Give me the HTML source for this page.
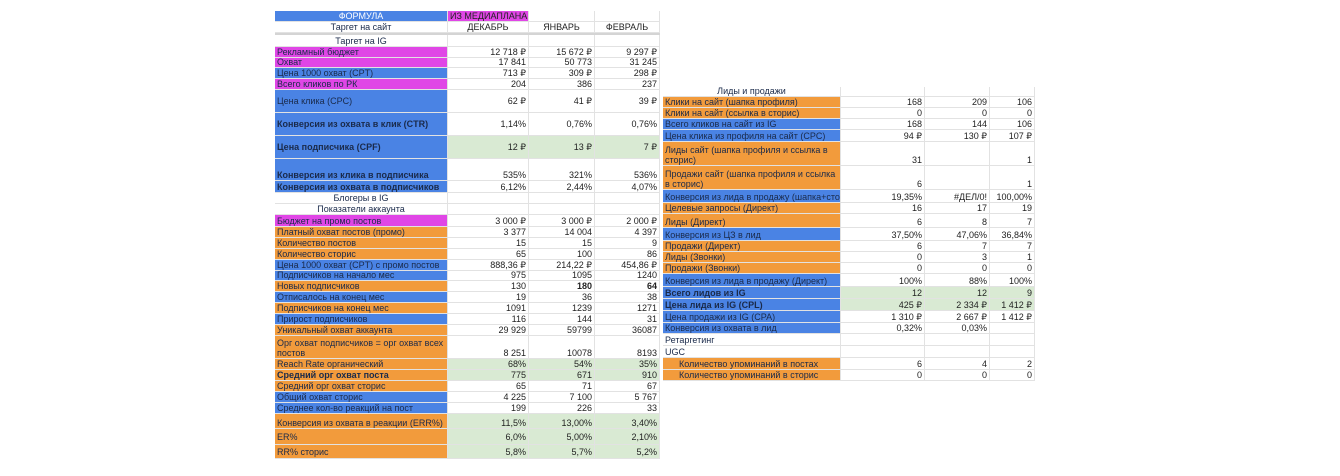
<!DOCTYPE html>
<html><head><meta charset="utf-8"><style>
body{margin:0;width:1340px;height:476px;background:#fff;position:relative;overflow:hidden;font-family:"Liberation Sans","DejaVu Sans",sans-serif;font-size:9px;color:#222}
.r{position:absolute;display:grid;box-sizing:border-box}
.L{left:275px;width:385px;grid-template-columns:173px 81px 66px 65px}
.R{left:663px;width:372px;grid-template-columns:178px 84px 65px 45px}
.r>div{border-bottom:1px solid #e2e2e2;border-right:1px solid #e2e2e2;display:flex;align-items:flex-end;justify-content:flex-end;padding:0 2px 0 2px;overflow:hidden;white-space:nowrap;line-height:10px}
.r>div:first-child{justify-content:flex-start;color:#1a2a4a}
.c{justify-content:center!important}
.b{background:#4a83e4}.o{background:#f29b3c}.m{background:#e046e6}.g{background:#d9ead3}
.w{white-space:normal!important;align-items:flex-end}
.bd{font-weight:bold}
</style></head><body>
<div class="r L" style="top:11px;height:11px"><div class="b c" style="color:#fff">ФОРМУЛА</div><div class="m" style="justify-content:flex-start;color:#222">ИЗ МЕДИАПЛАНА</div><div></div><div></div></div>
<div class="r L" style="top:22px;height:11px"><div class="c">Таргет на сайт</div><div class="c">ДЕКАБРЬ</div><div class="c">ЯНВАРЬ</div><div class="c">ФЕВРАЛЬ</div></div>
<div style="position:absolute;left:275px;top:33px;width:385px;height:2px;background:#d4d4d4"></div>
<div class="r L" style="top:35px;height:12px"><div class="c">Таргет на IG</div><div></div><div></div><div></div></div>
<div class="r L" style="top:47px;height:11px"><div class="m">Рекламный бюджет</div><div>12 718 ₽</div><div>15 672 ₽</div><div>9 297 ₽</div></div>
<div class="r L" style="top:58px;height:10px"><div class="m">Охват</div><div>17 841</div><div>50 773</div><div>31 245</div></div>
<div class="r L" style="top:68px;height:11px"><div class="b">Цена 1000 охват (CPT)</div><div>713 ₽</div><div>309 ₽</div><div>298 ₽</div></div>
<div class="r L" style="top:79px;height:11px"><div class="m">Всего кликов по РК</div><div>204</div><div>386</div><div>237</div></div>
<div class="r L" style="top:90px;height:23px"><div class="b" style="align-items:center">Цена клика (CPC)</div><div style="align-items:center">62 ₽</div><div style="align-items:center">41 ₽</div><div style="align-items:center">39 ₽</div></div>
<div class="r L" style="top:113px;height:23px"><div class="b bd" style="align-items:center">Конверсия из охвата в клик (CTR)</div><div style="align-items:center">1,14%</div><div style="align-items:center">0,76%</div><div style="align-items:center">0,76%</div></div>
<div class="r L" style="top:136px;height:23px"><div class="b bd" style="align-items:center">Цена подписчика (CPF)</div><div class="g" style="align-items:center">12 ₽</div><div class="g" style="align-items:center">13 ₽</div><div class="g" style="align-items:center">7 ₽</div></div>
<div class="r L" style="top:159px;height:22px"><div class="b bd">Конверсия из клика в подписчика</div><div>535%</div><div>321%</div><div>536%</div></div>
<div class="r L" style="top:181px;height:12px"><div class="b bd">Конверсия из охвата в подписчиков</div><div>6,12%</div><div>2,44%</div><div>4,07%</div></div>
<div class="r L" style="top:193px;height:11px"><div class="c">Блогеры в IG</div><div></div><div></div><div></div></div>
<div class="r L" style="top:204px;height:11px"><div class="c">Показатели аккаунта</div><div></div><div></div><div></div></div>
<div class="r L" style="top:215px;height:12px"><div class="m">Бюджет на промо постов</div><div>3 000 ₽</div><div>3 000 ₽</div><div>2 000 ₽</div></div>
<div class="r L" style="top:227px;height:11px"><div class="o">Платный охват постов (промо)</div><div>3 377</div><div>14 004</div><div>4 397</div></div>
<div class="r L" style="top:238px;height:11px"><div class="o">Количество постов</div><div>15</div><div>15</div><div>9</div></div>
<div class="r L" style="top:249px;height:11px"><div class="o">Количество сторис</div><div>65</div><div>100</div><div>86</div></div>
<div class="r L" style="top:260px;height:11px"><div class="b">Цена 1000 охват (CPT) с промо постов</div><div>888,36 ₽</div><div>214,22 ₽</div><div>454,86 ₽</div></div>
<div class="r L" style="top:271px;height:10px"><div class="b">Подписчиков на начало мес</div><div>975</div><div>1095</div><div>1240</div></div>
<div class="r L" style="top:281px;height:11px"><div class="o">Новых подписчиков</div><div>130</div><div class="bd">180</div><div class="bd">64</div></div>
<div class="r L" style="top:292px;height:11px"><div class="b">Отписалось на конец мес</div><div>19</div><div>36</div><div>38</div></div>
<div class="r L" style="top:303px;height:11px"><div class="o">Подписчиков на конец мес</div><div>1091</div><div>1239</div><div>1271</div></div>
<div class="r L" style="top:314px;height:11px"><div class="b">Прирост подписчиков</div><div>116</div><div>144</div><div>31</div></div>
<div class="r L" style="top:325px;height:11px"><div class="o">Уникальный охват аккаунта</div><div>29 929</div><div>59799</div><div>36087</div></div>
<div class="r L" style="top:336px;height:23px"><div class="o w">Орг охват подписчиков = орг охват всех постов</div><div>8 251</div><div>10078</div><div>8193</div></div>
<div class="r L" style="top:359px;height:11px"><div class="o">Reach Rate органический</div><div class="g">68%</div><div class="g">54%</div><div class="g">35%</div></div>
<div class="r L" style="top:370px;height:11px"><div class="o bd">Средний орг охват поста</div><div class="g">775</div><div class="g">671</div><div class="g">910</div></div>
<div class="r L" style="top:381px;height:11px"><div class="o">Средний орг охват сторис</div><div>65</div><div>71</div><div>67</div></div>
<div class="r L" style="top:392px;height:11px"><div class="b">Общий охват сторис</div><div>4 225</div><div>7 100</div><div>5 767</div></div>
<div class="r L" style="top:403px;height:11px"><div class="b">Среднее кол-во реакций на пост</div><div>199</div><div>226</div><div>33</div></div>
<div class="r L" style="top:414px;height:15px"><div class="o">Конверсия из охвата в реакции (ERR%)</div><div class="g">11,5%</div><div class="g">13,00%</div><div class="g">3,40%</div></div>
<div class="r L" style="top:429px;height:16px"><div class="o" style="align-items:center">ER%</div><div class="g" style="align-items:center">6,0%</div><div class="g" style="align-items:center">5,00%</div><div class="g" style="align-items:center">2,10%</div></div>
<div class="r L" style="top:445px;height:14px"><div class="o" style="align-items:center">RR% сторис</div><div class="g" style="align-items:center">5,8%</div><div class="g" style="align-items:center">5,7%</div><div class="g" style="align-items:center">5,2%</div></div>
<div class="r R" style="top:87px;height:10px"><div class="c">Лиды и продажи</div><div></div><div></div><div></div></div>
<div class="r R" style="top:97px;height:11px"><div class="o">Клики на сайт (шапка профиля)</div><div>168</div><div>209</div><div>106</div></div>
<div class="r R" style="top:108px;height:11px"><div class="o">Клики на сайт (ссылка в сторис)</div><div>0</div><div>0</div><div>0</div></div>
<div class="r R" style="top:119px;height:11px"><div class="b">Всего кликов на сайт из IG</div><div>168</div><div>144</div><div>106</div></div>
<div class="r R" style="top:130px;height:12px"><div class="b">Цена клика из профиля на сайт (CPC)</div><div>94 ₽</div><div>130 ₽</div><div>107 ₽</div></div>
<div class="r R" style="top:142px;height:24px"><div class="o w">Лиды сайт (шапка профиля и ссылка в сторис)</div><div>31</div><div></div><div>1</div></div>
<div class="r R" style="top:166px;height:24px"><div class="o w">Продажи сайт (шапка профиля и ссылка в сторис)</div><div>6</div><div></div><div>1</div></div>
<div class="r R" style="top:190px;height:13px"><div class="b">Конверсия из лида в продажу (шапка+сторис)</div><div>19,35%</div><div>#ДЕЛ/0!</div><div>100,00%</div></div>
<div class="r R" style="top:203px;height:11px"><div class="o">Целевые запросы (Директ)</div><div>16</div><div>17</div><div>19</div></div>
<div class="r R" style="top:214px;height:14px"><div class="o">Лиды (Директ)</div><div>6</div><div>8</div><div>7</div></div>
<div class="r R" style="top:228px;height:13px"><div class="b">Конверсия из ЦЗ в лид</div><div>37,50%</div><div>47,06%</div><div>36,84%</div></div>
<div class="r R" style="top:241px;height:11px"><div class="o">Продажи (Директ)</div><div>6</div><div>7</div><div>7</div></div>
<div class="r R" style="top:252px;height:11px"><div class="o">Лиды (Звонки)</div><div>0</div><div>3</div><div>1</div></div>
<div class="r R" style="top:263px;height:11px"><div class="o">Продажи (Звонки)</div><div>0</div><div>0</div><div>0</div></div>
<div class="r R" style="top:274px;height:13px"><div class="b">Конверсия из лида в продажу (Директ)</div><div>100%</div><div>88%</div><div>100%</div></div>
<div class="r R" style="top:287px;height:12px"><div class="b bd">Всего лидов из IG</div><div class="g">12</div><div class="g">12</div><div class="g">9</div></div>
<div class="r R" style="top:299px;height:12px"><div class="b bd">Цена лида из IG (CPL)</div><div class="g">425 ₽</div><div class="g">2 334 ₽</div><div class="g">1 412 ₽</div></div>
<div class="r R" style="top:311px;height:12px"><div class="b">Цена продажи из IG (CPA)</div><div>1 310 ₽</div><div>2 667 ₽</div><div>1 412 ₽</div></div>
<div class="r R" style="top:323px;height:11px"><div class="b">Конверсия из охвата в лид</div><div>0,32%</div><div>0,03%</div><div></div></div>
<div class="r R" style="top:334px;height:12px"><div>Ретаргетинг</div><div></div><div></div><div></div></div>
<div class="r R" style="top:346px;height:12px"><div>UGC</div><div></div><div></div><div></div></div>
<div class="r R" style="top:358px;height:12px"><div class="o" style="padding-left:16px">Количество упоминаний в постах</div><div>6</div><div>4</div><div>2</div></div>
<div class="r R" style="top:370px;height:11px"><div class="o" style="padding-left:16px">Количество упоминаний в сторис</div><div>0</div><div>0</div><div>0</div></div>
</body></html>
